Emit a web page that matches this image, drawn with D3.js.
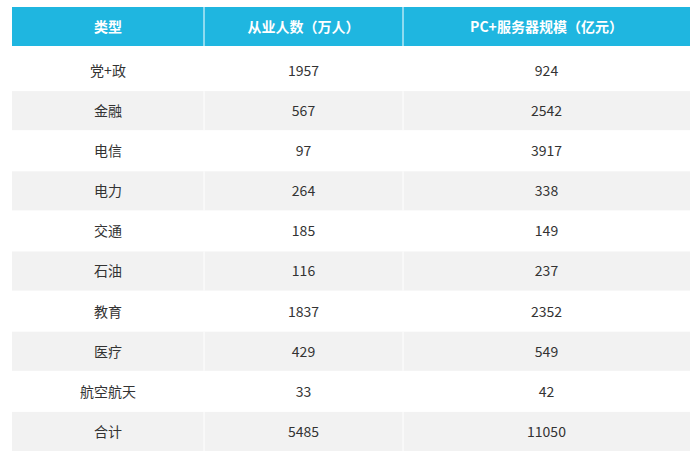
<!DOCTYPE html>
<html><head><meta charset="utf-8">
<script src="https://cdn.jsdelivr.net/npm/d3@7"></script>
<style>body{margin:0;background:#fff;}</style>
</head><body><div id="chart"></div>
<script>
const headers = ['类型', '从业人数（万人）', 'PC+服务器规模（亿元）'];
const categories = ['党+政', '金融', '电信', '电力', '交通', '石油', '教育', '医疗', '航空航天', '合计'];
const workers = [1957, 567, 97, 264, 185, 116, 1837, 429, 33, 5485];
const pcServer = [924, 2542, 3917, 338, 149, 237, 2352, 549, 42, 11050];

const font = '"Noto Sans CJK SC", "Noto Sans", sans-serif';
const svg = d3.select('#chart').append('svg').attr('width', 700).attr('height', 467);

// column edges
const colEdges = [12, 204, 403, 690];
const colX = i => colEdges[i];
const colW = i => colEdges[i + 1] - colEdges[i];

const y = d3.scaleBand().domain(d3.range(categories.length)).range([51, 452]);

// header
const head = svg.append('g');
headers.forEach((h, i) => {
  head.append('rect').attr('x', colX(i)).attr('y', 7).attr('width', colW(i)).attr('height', 39).attr('fill', '#1fb6e0');
  head.append('text').attr('x', colX(i) + colW(i) / 2).attr('y', 27).attr('dy', '0.35em')
    .attr('text-anchor', 'middle').attr('fill', '#fff').attr('font-weight', 'bold')
    .attr('font-size', 14).attr('font-family', font).text(h);
});
[204, 403].forEach(x => head.append('line').attr('x1', x).attr('x2', x).attr('y1', 7).attr('y2', 46).attr('stroke', '#fff'));

// body rows
const rows = svg.selectAll('.row').data(categories.map((c, i) => [c, workers[i], pcServer[i]]))
  .enter().append('g').attr('class', 'row')
  .attr('transform', (d, i) => `translate(0,${y(i)})`);

rows.append('rect').attr('x', 12).attr('width', 678).attr('height', y.bandwidth() - 1)
  .attr('fill', (d, i) => i % 2 ? '#f2f2f2' : '#fff');
rows.each(function (d, i) {
  if (i % 2) [204, 403].forEach(x => d3.select(this).append('line').attr('x1', x).attr('x2', x)
    .attr('y1', 0).attr('y2', y.bandwidth() - 1).attr('stroke', '#fff'));
});
rows.selectAll('text').data(d => d).enter().append('text')
  .attr('x', (d, j) => colX(j) + colW(j) / 2).attr('y', y.bandwidth() / 2).attr('dy', '0.35em')
  .attr('text-anchor', 'middle').attr('fill', '#333').attr('font-size', 14).attr('font-family', font)
  .text(d => d);
</script></body></html>
